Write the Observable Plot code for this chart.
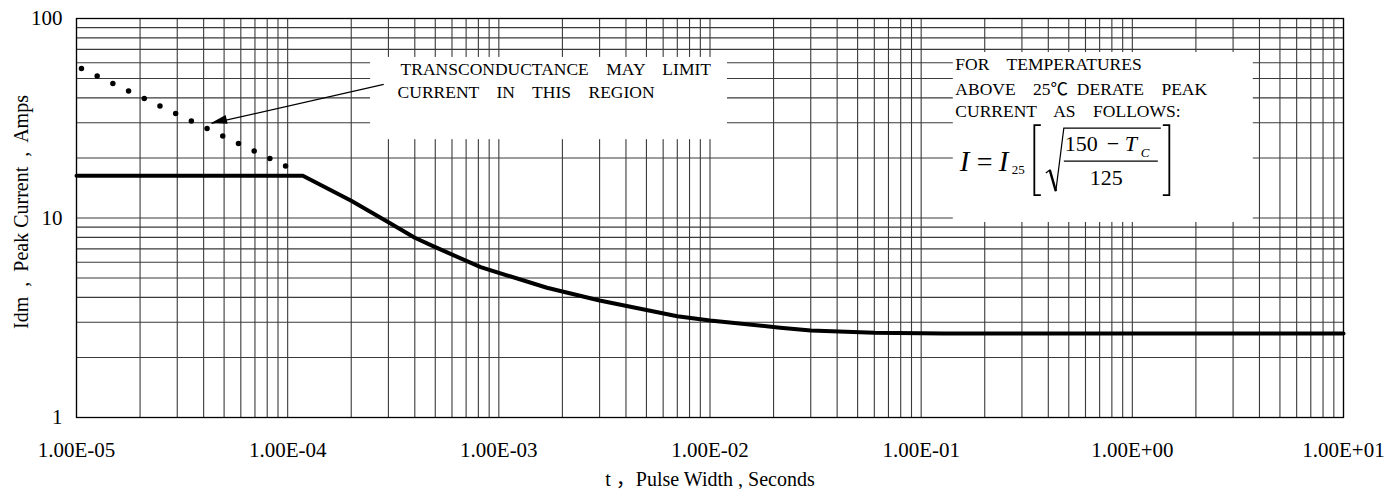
<!DOCTYPE html>
<html>
<head>
<meta charset="utf-8">
<script src="https://cdn.jsdelivr.net/npm/d3@7"></script>
<script src="https://cdn.jsdelivr.net/npm/@observablehq/plot@0.6"></script>
<style>
  html, body { margin: 0; padding: 0; background: #fff; overflow: hidden; }
</style>
</head>
<body>
<div id="chart"></div>
<script>
// Maximum peak current versus pulse width, log–log.
const pulseWidth  = [1e-5, 1.18e-4, 2.0e-4, 3.0e-4, 4.0e-4, 5.0e-4, 8.2e-4, 1.69e-3, 3.0e-3, 7.0e-3, 1.0e-2, 2.15e-2, 3.0e-2, 6.0e-2, 1.28e-1, 10];
const peakCurrent = [16.3, 16.3, 12.2, 9.53, 7.96, 7.14, 5.67, 4.47, 3.86, 3.22, 3.06, 2.82, 2.73, 2.66, 2.64, 2.64];

// Transconductance-limited region (dotted).
const gmPulseWidth = [1e-5, 9.9e-5];
const gmCurrent    = [57.7, 18.1];

// Axis ticks.
const xTicks = [1e-5, 1e-4, 1e-3, 1e-2, 1e-1, 1, 10];
const yTicks = [1, 10, 100];

// Note boxes: [transconductance note, derating note].
const noteBoxT1 = [2.47e-4, 0.142];
const noteBoxT2 = [1.21e-2, 3.74];
const noteBoxI1 = [24.7, 9.5];
const noteBoxI2 = [63.8, 67.5];

// Leader arrow from the note to the dotted line: [tail, tip].
const arrowT = [2.85e-4, 4.36e-5];
const arrowI = [46.7, 29.8];

const gmNoteLines = ["TRANSCONDUCTANCE    MAY    LIMIT", "CURRENT    IN    THIS    REGION"];
const derateLines = ["FOR    TEMPERATURES", "ABOVE    25℃  DERATE    PEAK", "CURRENT    AS    FOLLOWS:"];

const xTitle = "t ，Pulse Width , Seconds";
const yTitle = "Idm  ,  Peak Current  ,  Amps";

const serif = "'Liberation Serif', 'Times New Roman', 'Noto Sans CJK SC', serif";

const curve = pulseWidth.map((t, k) => ({t, amps: peakCurrent[k]}));
const gmLine = gmPulseWidth.map((t, k) => ({t, amps: gmCurrent[k]}));
const boxes = noteBoxT1.map((_, k) => k);

const sciLabel = (d) => {
  const [m, e] = d.toExponential(2).split("e");
  const sign = e[0] === "-" ? "-" : "+";
  return `${m}E${sign}${e.replace(/^[+-]/, "").padStart(2, "0")}`;
};

// One line of note text anchored at a note box's top-left corner.
const noteText = (str, box, dx, dy) =>
  Plot.text([str], {
    x: () => noteBoxT1[box], y: () => noteBoxI2[box],
    dx, dy, textAnchor: "start", lineAnchor: "bottom",
    fontSize: 17.5, fill: "#000"
  });

// Filled arrowhead at the tip of the leader.
function arrowHead(index, scales) {
  const x1 = scales.x(arrowT[0]), y1 = scales.y(arrowI[0]);
  const x2 = scales.x(arrowT[1]), y2 = scales.y(arrowI[1]);
  const len = Math.hypot(x2 - x1, y2 - y1);
  const ux = (x2 - x1) / len, uy = (y2 - y1) / len;
  const L = 16, W = 4.5;
  const bx = x2 - ux * L, by = y2 - uy * L;
  const pts = [[x2, y2], [bx - uy * W, by + ux * W], [bx + uy * W, by - ux * W]];
  return d3.create("svg:polygon")
    .attr("points", pts.map((p) => p.join(",")).join(" "))
    .attr("fill", "#000")
    .node();
}

// Derating formula  I = I25 [ sqrt((150 − Tc) / 125) ], set inside the derating box.
function derateFormula(index, scales) {
  const ox = scales.x(noteBoxT1[1]), oy = scales.y(noteBoxI2[1]);
  const g = d3.create("svg:g")
    .attr("transform", `translate(${ox},${oy})`)
    .attr("font-family", serif)
    .attr("text-anchor", "start")
    .attr("fill", "#000");
  const txt = (s, x, y, size, italic) =>
    g.append("text").attr("x", x).attr("y", y).attr("font-size", size)
      .attr("font-style", italic ? "italic" : "normal").text(s);
  txt("I", 7, 119, 29, true);
  txt("=", 24, 119, 28, false);
  txt("I", 46, 119, 29, true);
  txt("25", 59, 122, 13, false);
  txt("150", 112, 99, 22, false);
  txt("−", 154, 99, 22, false);
  txt("T", 172, 99, 22, true);
  txt("C", 188, 105, 13, true);
  txt("125", 137, 133, 22, false);
  const path = (d, w) => g.append("path").attr("d", d).attr("fill", "none")
    .attr("stroke", "#000").attr("stroke-width", w);
  // brackets
  path("M88,73H81.5V143H88", 1.8);
  path("M210,73H216.5V143H210", 1.8);
  // radical sign with vinculum
  path("M93,121L97,118L103,139L111,76H208", 1.2);
  path("M97,118L103,139", 2.4);
  // fraction bar
  path("M111,109H205", 1.2);
  return g.node();
}

const plot = Plot.plot({
  width: 1387,
  height: 489,
  marginTop: 18,
  marginRight: 44,
  marginBottom: 72,
  marginLeft: 76,
  style: {fontFamily: serif, background: "#fff", color: "#000"},
  x: {type: "log", domain: [1e-5, 10]},
  y: {type: "log", domain: [1, 100]},
  marks: [
    Plot.gridX({ticks: 20, stroke: "#3a3a3a", strokeOpacity: 1, strokeWidth: 1.1}),
    Plot.gridY({ticks: 20, stroke: "#3a3a3a", strokeOpacity: 1, strokeWidth: 1.1}),
    Plot.rect(boxes, {
      x1: (k) => noteBoxT1[k], x2: (k) => noteBoxT2[k],
      y1: (k) => noteBoxI1[k], y2: (k) => noteBoxI2[k],
      fill: "#fff"
    }),
    Plot.frame({stroke: "#000", strokeWidth: 1.3}),
    Plot.axisX(xTicks, {tickSize: 0, tickPadding: 25, fontSize: 21, tickFormat: sciLabel, label: null}),
    Plot.axisY(yTicks, {tickSize: 0, tickPadding: 14, fontSize: 21, tickFormat: (d) => `${d}`, label: null}),
    Plot.line(curve, {x: "t", y: "amps", stroke: "#000", strokeWidth: 4, strokeLinejoin: "round"}),
    Plot.line(gmLine, {
      x: "t", y: "amps", stroke: "#000", strokeWidth: 5.5,
      strokeLinecap: "round", strokeDasharray: "0 17.4", strokeDashoffset: 11.9
    }),
    Plot.link([0], {
      x1: () => arrowT[0], y1: () => arrowI[0],
      x2: () => arrowT[1], y2: () => arrowI[1],
      stroke: "#000", strokeWidth: 1.3
    }),
    arrowHead,
    noteText(gmNoteLines[0], 0, 30, 17.3),
    noteText(gmNoteLines[1], 0, 27, 40.3),
    noteText(derateLines[0], 1, 2, 17.3),
    noteText(derateLines[1], 1, 2, 42),
    noteText(derateLines[2], 1, 2, 64),
    derateFormula,
    Plot.text([xTitle], {frameAnchor: "bottom", dy: 68, lineAnchor: "bottom", fontSize: 20, fill: "#000"}),
    Plot.text([yTitle], {frameAnchor: "left", dx: -49, dy: -6, rotate: -90, textAnchor: "middle", lineAnchor: "bottom", fontSize: 20, fill: "#000"})
  ]
});

document.getElementById("chart").append(plot);
</script>
</body>
</html>
